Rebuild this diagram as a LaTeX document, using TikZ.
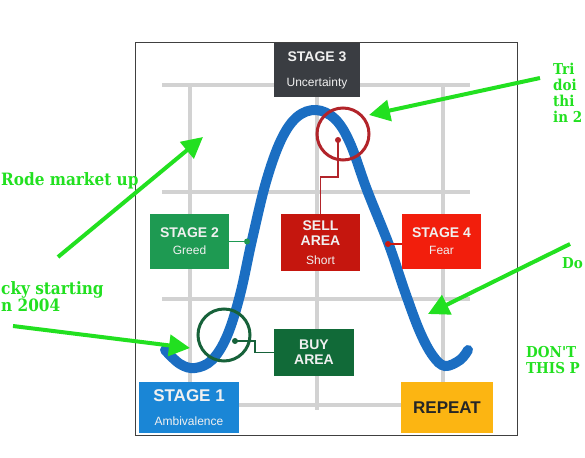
\documentclass[tikz,border=0pt]{standalone}
\usepackage{fontspec}
\setmainfont{Liberation Sans}
\newfontfamily\notefont{DejaVu Serif Condensed}
\usetikzlibrary{arrows.meta}

\definecolor{stageone}{HTML}{1A86D6}
\definecolor{stagetwo}{HTML}{1E9A52}
\definecolor{stagethree}{HTML}{3A3D42}
\definecolor{stagefour}{HTML}{F21E0C}
\definecolor{sellred}{HTML}{C5160E}
\definecolor{buygreen}{HTML}{116A38}
\definecolor{repeatyellow}{HTML}{FCB512}
\definecolor{curveblue}{HTML}{1B6EC2}
\definecolor{gridgray}{HTML}{D2D2D2}
\definecolor{notegreen}{HTML}{22E020}
\definecolor{ringred}{HTML}{B2242A}
\definecolor{ringgreen}{HTML}{17623A}

\newcommand{\boxhead}[1]{{\bfseries\fontsize{14}{14}\selectfont #1}}

\begin{document}
\begin{tikzpicture}[x=1pt, y=-1pt,
  box/.style = {rectangle, inner sep=0pt, text=white!94!black, align=center,
                font=\fontsize{12}{14}\selectfont},
  ring/.style = {circle, line width=3pt, inner sep=0pt, minimum size=52pt},
  note/.style = {inner sep=0pt, text=notegreen, align=left,
                 font=\notefont\bfseries\fontsize{17}{17}\selectfont},
  sidenote/.style = {note, font=\notefont\bfseries\fontsize{15}{16}\selectfont},
  pointer/.style = {notegreen, line width=4pt, -{Triangle[length=21pt, width=21pt]}}]
  \useasboundingbox (0,0) rectangle (585,457);
  \clip (0,0) rectangle (585,457);

  % frame and grid
  \draw[black!75, line width=1pt] (135,43) rectangle (517,435);
  \foreach \gy in {85,192,299,405}
    \draw[gridgray, line width=3.5pt] (162,\gy) -- (470,\gy);
  \foreach \gx in {190,317,443}
    \draw[gridgray, line width=3.5pt] (\gx,85) -- (\gx,410);

  % the cycle
  \draw[curveblue, line width=10pt, line cap=round] plot[smooth, tension=0.6] coordinates {
    (165,350) (180,364) (195,368) (212,360) (227,336) (240,295) (252,240)
    (266,182) (281,140) (297,117) (316,110) (335,119) (350,143) (367,190)
    (389,245) (405,292) (420,332) (433,356) (445,366) (460,360) (468,350)};

  \node[ring, draw=ringred] (sellRing) at (343,134) {};
  \node[ring, draw=ringgreen] (buyRing) at (224,335) {};

  % boxes
  \node[box, fill=stagethree, minimum width=86pt, minimum height=54pt] (s3) at (317,70)
    {\boxhead{STAGE 3}\\[11pt]Uncertainty};
  \node[box, fill=stagetwo, minimum width=79pt, minimum height=55pt] (s2) at (189.5,241.5)
    {\boxhead{STAGE 2}\\[3pt]Greed};
  \node[box, fill=sellred, minimum width=79pt, minimum height=57pt] (sell) at (320.5,242.5)
    {\boxhead{SELL}\\[1pt]\boxhead{AREA}\\[5pt]Short};
  \node[box, fill=stagefour, minimum width=79pt, minimum height=55pt] (s4) at (441.5,241.5)
    {\boxhead{STAGE 4}\\[3pt]Fear};
  \node[box, fill=buygreen, minimum width=80pt, minimum height=47pt] (buy) at (314,352.5)
    {\boxhead{BUY}\\[1pt]\boxhead{AREA}};
  \node[box, fill=stageone, minimum width=100pt, minimum height=51pt] (s1) at (189,407.5)
    {{\bfseries\fontsize{17}{17}\selectfont STAGE 1}\\[10pt]Ambivalence};
  \node[box, fill=repeatyellow, text=black!85, minimum width=92pt, minimum height=51pt] (rep) at (447,407.5)
    {\bfseries\fontsize{17}{17}\selectfont REPEAT};

  % leaders from the curve
  \coordinate (s2Dot) at (247,241.5);
  \coordinate (sellDot) at (338,140);
  \coordinate (s4Dot) at (388,244);
  \coordinate (buyDot) at (235,341);
  \draw[stagetwo, line width=1.2pt] (s2.east) -- (s2Dot);
  \draw[ringred, line width=1.2pt] (sellDot) -- ++(0,37) -| (sell.north);
  \draw[sellred!80!stagefour, line width=1.2pt] (s4Dot) -- (s4Dot -| s4.west);
  \draw[ringgreen, line width=1.2pt] (buyDot) -- ++(20,0) |- (buy.west);
  \fill[stagetwo] (s2Dot) circle (3pt);
  \fill[ringred] (sellDot) circle (3pt);
  \fill[sellred!80!stagefour] (s4Dot) circle (3pt);
  \fill[ringgreen] (buyDot) circle (3pt);

  % notes
  \node[note, anchor=base west] (rode) at (1,185) {Rode market up};
  \node[note, anchor=north west] (lucky) at (1,281) {cky starting\\n 2004};
  \node[sidenote, anchor=north west] (tried) at (553,63) {Tri\\doi\\thi\\in 2};
  \node[sidenote, anchor=base west] (dont) at (562,268) {Do};
  \node[sidenote, anchor=north west] (part) at (526,346) {DON'T\\THIS P};

  \coordinate (rodeTail) at (58,257);   \coordinate (rodeTip) at (203,137);
  \coordinate (luckyTail) at (13,326);  \coordinate (luckyTip) at (190,348);
  \coordinate (triedTail) at (540,78);  \coordinate (triedTip) at (369,115);
  \coordinate (dontTail) at (570,244);  \coordinate (dontTip) at (428,314);
  \draw[pointer] (rodeTail) -- (rodeTip);
  \draw[pointer] (luckyTail) -- (luckyTip);
  \draw[pointer] (triedTail) -- (triedTip);
  \draw[pointer] (dontTail) -- (dontTip);
\end{tikzpicture}
\end{document}
